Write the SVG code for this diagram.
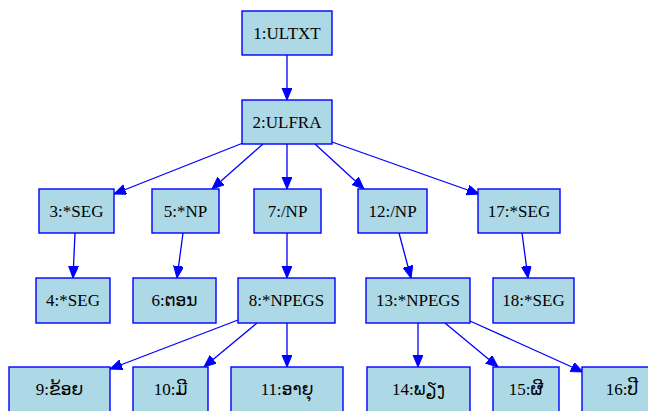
<svg xmlns="http://www.w3.org/2000/svg" width="648" height="411" viewBox="0 0 648 411">
<style>
.n rect{fill:#add8e6;stroke:#0000ff;stroke-width:1.4}
.n text{font-family:"Liberation Serif","DejaVu Serif","DejaVu Sans",serif;font-size:17px;fill:#000;text-anchor:middle}
.e path{fill:none;stroke:#0000ff;stroke-width:1.3}
</style>
<defs>
<marker id="a" markerUnits="userSpaceOnUse" markerWidth="14" markerHeight="12" refX="12" refY="5" orient="auto">
<path d="M0,0 L12,5 L0,10 Z" fill="#0000ff" stroke="#0000ff" stroke-width="1"/>
</marker>
</defs>
<g id="edges" class="e">
<path d="M287,55 L287,100" marker-end="url(#a)"/>
<path d="M243,143 L114,194" marker-end="url(#a)"/>
<path d="M263,144 L212,189" marker-end="url(#a)"/>
<path d="M287,144 L287,189" marker-end="url(#a)"/>
<path d="M315,144 L364,189" marker-end="url(#a)"/>
<path d="M332,142 L479,194" marker-end="url(#a)"/>
<path d="M75,233 L73,278" marker-end="url(#a)"/>
<path d="M183,233 L177,278" marker-end="url(#a)"/>
<path d="M287,233 L287,278" marker-end="url(#a)"/>
<path d="M399,233 L411,278" marker-end="url(#a)"/>
<path d="M522,233 L528,278" marker-end="url(#a)"/>
<path d="M238,320 L110,369" marker-end="url(#a)"/>
<path d="M257,323 L204,367" marker-end="url(#a)"/>
<path d="M287,323 L287,367" marker-end="url(#a)"/>
<path d="M418,323 L418,367" marker-end="url(#a)"/>
<path d="M445,323 L498,367" marker-end="url(#a)"/>
<path d="M470,321 L583,372" marker-end="url(#a)"/>
</g>
<g id="n1" class="n"><rect x="242" y="11" width="90" height="44"/><text x="287" y="39">1:ULTXT</text></g>
<g id="n2" class="n"><rect x="242" y="100" width="90" height="44"/><text x="287" y="128">2:ULFRA</text></g>
<g id="n3" class="n"><rect x="39" y="189" width="75" height="44"/><text x="76.5" y="217">3:*SEG</text></g>
<g id="n5" class="n"><rect x="152" y="189" width="67" height="44"/><text x="185.5" y="217">5:*NP</text></g>
<g id="n7" class="n"><rect x="254" y="189" width="67" height="44"/><text x="287.5" y="217">7:/NP</text></g>
<g id="n12" class="n"><rect x="358" y="189" width="69" height="44"/><text x="392.5" y="217">12:/NP</text></g>
<g id="n17" class="n"><rect x="478" y="189" width="82" height="44"/><text x="519" y="217">17:*SEG</text></g>
<g id="n4" class="n"><rect x="36" y="278" width="74" height="45"/><text x="73" y="306">4:*SEG</text></g>
<g id="n6" class="n"><rect x="133" y="278" width="83" height="45"/><text x="174.5" y="306">6:ຕອນ</text></g>
<g id="n8" class="n"><rect x="238" y="278" width="97" height="45"/><text x="286.5" y="306">8:*NPEGS</text></g>
<g id="n13" class="n"><rect x="366" y="278" width="104" height="45"/><text x="418" y="306">13:*NPEGS</text></g>
<g id="n18" class="n"><rect x="493" y="278" width="81" height="45"/><text x="533.5" y="306">18:*SEG</text></g>
<g id="n9" class="n"><rect x="9" y="367" width="101" height="60"/><text x="59.5" y="395">9:ຂ້ອຍ</text></g>
<g id="n10" class="n"><rect x="133" y="367" width="75" height="60"/><text x="170.5" y="395">10:ມີ</text></g>
<g id="n11" class="n"><rect x="231" y="367" width="112" height="60"/><text x="287" y="395">11:ອາຍຸ</text></g>
<g id="n14" class="n"><rect x="367" y="367" width="103" height="60"/><text x="418.5" y="395">14:ພຽງ</text></g>
<g id="n15" class="n"><rect x="493" y="367" width="66" height="60"/><text x="526" y="395">15:ຜີ</text></g>
<g id="n16" class="n"><rect x="582" y="367" width="80" height="60"/><text x="622" y="395">16:ປີ</text></g>
</svg>
